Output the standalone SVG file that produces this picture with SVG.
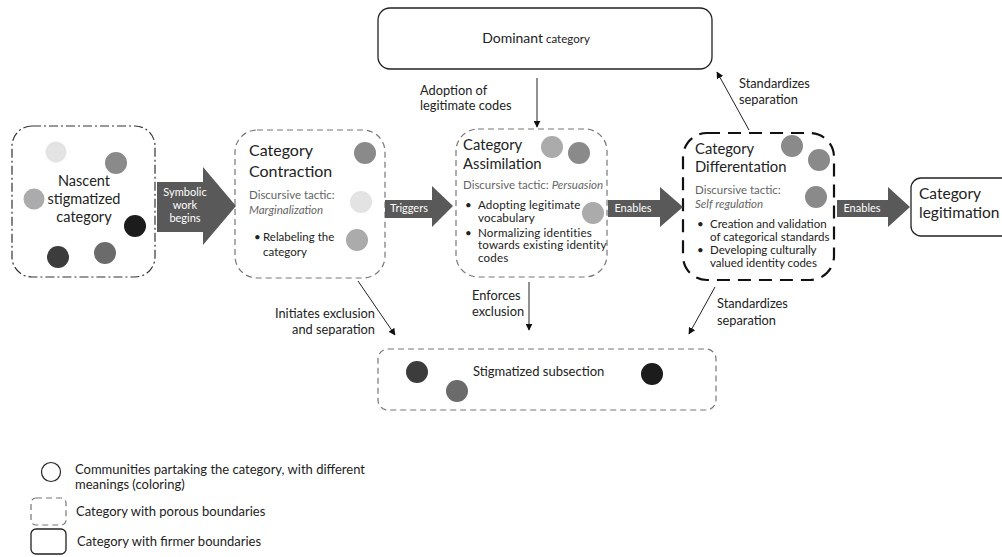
<svg xmlns="http://www.w3.org/2000/svg" width="1002" height="557" viewBox="0 0 1002 557">
<defs>
<marker id="ah" viewBox="0 0 10 10" refX="9" refY="5" markerWidth="7" markerHeight="7" orient="auto" markerUnits="userSpaceOnUse">
<path d="M0,0 L10,5 L0,10 z" fill="#111"/>
</marker>
<style>
text{font-family:Lato,"Liberation Sans",sans-serif;fill:#222}
.porous{fill:#fff;stroke:#777;stroke-width:1.2;stroke-dasharray:6 4}
.firm{fill:#fff;stroke:#222;stroke-width:1.3}
.dashdot{fill:#fff;stroke:#333;stroke-width:1.2;stroke-dasharray:9 3 2 3}
.bold{fill:#fff;stroke:#111;stroke-width:2.2;stroke-dasharray:13 8}
.block{fill:#595959}
.bl{fill:#fff;font-size:11px;text-anchor:middle}
.tac{font-size:11.5px;fill:#666}
.bul{font-size:11.5px}
.bul2{font-size:11.6px;letter-spacing:0.15px}
.lbl{font-size:12.8px}
.leg{font-size:13px}
.ln{stroke:#222;stroke-width:1;fill:none;marker-end:url(#ah)}
.c1{fill:#e3e3e3}.c2{fill:#8a8a8a}.c3{fill:#ababab}.c4{fill:#1c1c1c}.c5{fill:#3c3c3c}.c6{fill:#6b6b6b}
</style>
</defs>
<rect width="1002" height="557" fill="#fff"/>

<g id="dominant">
<rect class="firm" x="378" y="8" width="334" height="61" rx="12"/>
<text x="536" y="43" text-anchor="middle"><tspan font-size="14">Dominant</tspan><tspan font-size="11.5"> category</tspan></text>
</g>

<g id="nascent">
<rect class="dashdot" x="12" y="126" width="143" height="151" rx="20"/>
<circle class="c1" cx="56" cy="152" r="10.5"/>
<circle class="c2" cx="116" cy="163" r="11"/>
<circle class="c3" cx="34" cy="199" r="10.5"/>
<circle class="c4" cx="135" cy="226" r="11"/>
<circle class="c5" cx="58" cy="257" r="11"/>
<circle class="c6" cx="105" cy="253" r="11"/>
<text x="84" y="186" font-size="14.5" text-anchor="middle">Nascent</text>
<text x="84" y="204" font-size="14.5" text-anchor="middle">stigmatized</text>
<text x="84" y="222" font-size="14.5" text-anchor="middle">category</text>
</g>

<g id="contraction">
<rect class="porous" x="235" y="130" width="150" height="148" rx="22"/>
<circle class="c2" cx="365" cy="153" r="11"/>
<circle class="c1" cx="361" cy="202" r="11"/>
<circle class="c3" cx="357" cy="240" r="11"/>
<text x="249" y="156" font-size="16">Category</text>
<text x="249" y="177" font-size="16">Contraction</text>
<text class="tac" x="249" y="199">Discursive tactic:</text>
<text class="tac" x="249" y="214" font-style="italic">Marginalization</text>
<text class="bul" x="254" y="241">•</text>
<text class="bul" x="263" y="241">Relabeling the</text>
<text class="bul" x="263" y="256">category</text>
</g>

<g id="assimilation">
<rect class="porous" x="456" y="129" width="151" height="148" rx="22"/>
<circle class="c3" cx="552" cy="147" r="11"/>
<circle class="c2" cx="579" cy="153" r="11"/>
<circle class="c3" cx="593" cy="213" r="11"/>
<text x="463" y="150" font-size="14.8">Category</text>
<text x="463" y="169" font-size="14.8">Assimilation</text>
<text class="tac" x="463" y="189">Discursive tactic: <tspan font-style="italic">Persuasion</tspan></text>
<text class="bul" x="465" y="209">•</text>
<text class="bul2" x="478" y="209">Adopting legitimate</text>
<text class="bul2" x="478" y="221.5">vocabulary</text>
<text class="bul" x="465" y="236.5">•</text>
<text class="bul2" x="478" y="236.5">Normalizing identities</text>
<text class="bul2" x="478" y="249">towards existing identity</text>
<text class="bul2" x="478" y="261.5">codes</text>
</g>

<g id="differentiation">
<rect class="bold" x="683" y="133" width="151" height="147" rx="24"/>
<circle class="c2" cx="792" cy="146" r="11"/>
<circle class="c2" cx="819" cy="160" r="11"/>
<circle class="c2" cx="816" cy="197" r="11"/>
<text x="695" y="154" font-size="14.8">Category</text>
<text x="695" y="172" font-size="14.8">Differentation</text>
<text class="tac" x="695" y="194">Discursive tactic:</text>
<text class="tac" x="695" y="208" font-style="italic">Self regulation</text>
<text class="bul" x="697" y="228">•</text>
<text class="bul" x="710" y="228">Creation and validation</text>
<text class="bul" x="710" y="241">of categorical standards</text>
<text class="bul" x="697" y="254">•</text>
<text class="bul" x="710" y="254">Developing culturally</text>
<text class="bul" x="710" y="267">valued identity codes</text>
</g>

<g id="legitimation">
<rect class="firm" x="911" y="178" width="130" height="58" rx="10" stroke-width="1.6"/>
<text x="919" y="199" font-size="15.5">Category</text>
<text x="919" y="218" font-size="15.5">legitimation</text>
</g>

<g id="stigmatized">
<rect class="porous" x="378" y="349" width="338" height="61" rx="10"/>
<circle class="c5" cx="417" cy="372" r="11"/>
<circle class="c6" cx="457" cy="391" r="11"/>
<circle class="c4" cx="652" cy="374" r="11"/>
<text x="473" y="376" font-size="13">Stigmatized subsection</text>
</g>

<g id="connectors">
<polygon class="block" points="157,182 203,182 203,167 236,206 203,245 203,232 157,232"/>
<text class="bl" x="185" y="196" font-size="10.5">Symbolic</text>
<text class="bl" x="185" y="209" font-size="10.5">work</text>
<text class="bl" x="185" y="222" font-size="10.5">begins</text>
<polygon class="block" points="385,200 432,200 432,186 453,206 432,227 432,218 385,218"/>
<text class="bl" x="409" y="212">Triggers</text>
<polygon class="block" points="608,200 660,200 660,187 683,207 660,227 660,217 608,217"/>
<text class="bl" x="633" y="212">Enables</text>
<polygon class="block" points="837,200 888,200 888,187 910,207 888,227 888,217 837,217"/>
<text class="bl" x="862" y="212">Enables</text>

<line class="ln" x1="537" y1="78" x2="537" y2="127"/>
<text class="lbl" x="420" y="95">Adoption of</text>
<text class="lbl" x="420" y="110">legitimate codes</text>

<line class="ln" x1="749" y1="130" x2="717" y2="72"/>
<text class="lbl" x="739" y="88">Standardizes</text>
<text class="lbl" x="739" y="104">separation</text>

<line class="ln" x1="358" y1="281" x2="395" y2="335"/>
<text class="lbl" x="375" y="318" text-anchor="end">Initiates exclusion</text>
<text class="lbl" x="375" y="334" text-anchor="end">and separation</text>

<line class="ln" x1="529" y1="282" x2="529" y2="330"/>
<text class="lbl" x="472" y="300">Enforces</text>
<text class="lbl" x="472" y="316">exclusion</text>

<line class="ln" x1="715" y1="287" x2="689" y2="334"/>
<text class="lbl" x="717" y="308">Standardizes</text>
<text class="lbl" x="717" y="325">separation</text>
</g>

<g id="legend">
<circle cx="51" cy="472" r="9.5" fill="#fff" stroke="#222" stroke-width="1.2"/>
<text class="leg" x="75" y="474">Communities partaking the category, with different</text>
<text class="leg" x="75" y="489">meanings (coloring)</text>
<rect class="porous" x="31" y="498" width="35" height="27" rx="5"/>
<text class="leg" x="76" y="516">Category with porous boundaries</text>
<rect class="firm" x="31" y="529" width="35" height="25" rx="5"/>
<text class="leg" x="77" y="546">Category with firmer boundaries</text>
</g>
</svg>
